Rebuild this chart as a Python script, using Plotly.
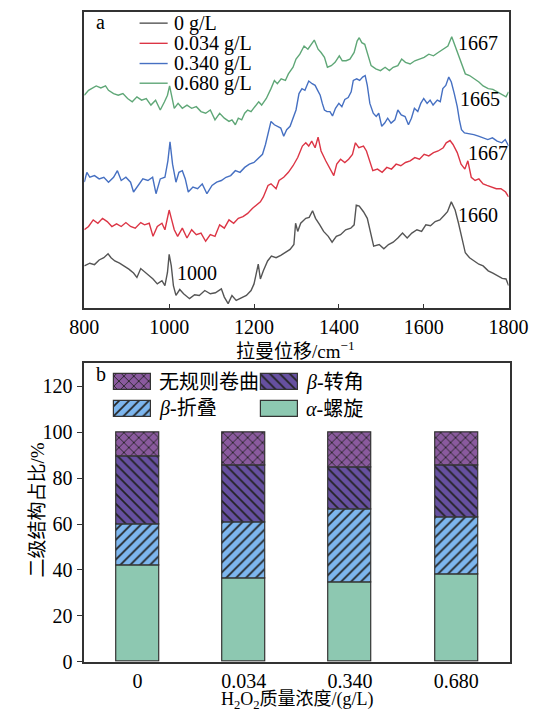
import plotly.graph_objects as go

W, H = 552, 722

# ---------------- Raman spectra (offset intensity, a.u.) ----------------
spec_0 = [(800, 43), (813, 45.7), (824, 44.3), (835, 49), (846, 51.3), (856, 55.3), (863, 51.3),
          (872, 48), (883, 45.7), (894, 43), (905, 39.7), (916, 35.7), (924, 31.3), (933, 40.3),
          (942, 37), (952, 33.7), (962, 29.7), (972, 24.7), (983, 28), (990, 23), (996, 36.3),
          (1000, 54.7), (1005, 43), (1010, 23), (1016, 13), (1025, 19), (1034, 14.7), (1048, 9.7),
          (1060, 13.7), (1071, 13), (1084, 18), (1097, 14.7), (1109, 15.7), (1123, 19.7),
          (1130, 11.3), (1139, 4.7), (1148, 13), (1158, 8), (1171, 10.3), (1182, 13), (1193, 18),
          (1200, 24.7), (1210, 44.7), (1215, 29.7), (1222, 38), (1232, 48), (1241, 53),
          (1252, 51.3), (1263, 53.7), (1274, 56.3), (1285, 59.7), (1294, 64.7), (1298, 86.3),
          (1303, 78), (1310, 86.3), (1322, 91.3), (1330, 92.3), (1338, 99), (1345, 91.3),
          (1355, 84.7), (1364, 78), (1375, 73), (1384, 67), (1394, 73), (1404, 74.7),
          (1416, 79.7), (1428, 81.3), (1436, 84.7), (1441, 104.7), (1448, 103.7), (1458, 98),
          (1467, 91.3), (1475, 76.3), (1482, 63), (1495, 64.7), (1506, 60.3), (1517, 64.7),
          (1528, 67), (1539, 71.3), (1550, 76.3), (1561, 71.3), (1572, 76.3), (1584, 79.7),
          (1595, 78), (1605, 84.7), (1616, 83.7), (1627, 88), (1638, 89.7), (1649, 94.7),
          (1656, 98), (1665, 108), (1674, 99.7), (1682, 86.3), (1691, 68), (1698, 56.3),
          (1708, 51.3), (1719, 48), (1730, 44.7), (1740, 43), (1752, 38), (1763, 35.7),
          (1774, 33), (1785, 30.3), (1794, 29.7), (1800, 23)]

spec_0034 = [(800, 79.7), (810, 83), (821, 89.7), (832, 86.3), (843, 91.3), (854, 88), (865, 83),
             (876, 85.7), (887, 83), (898, 87), (909, 83), (920, 81.3), (933, 87), (942, 84.7),
             (953, 86.3), (962, 73), (972, 83), (983, 86.3), (990, 79.7), (1000, 99.7),
             (1006, 89.7), (1012, 79.7), (1020, 73), (1031, 81.3), (1042, 71.3), (1053, 79.7),
             (1064, 74.7), (1075, 76.3), (1086, 68), (1097, 74.7), (1108, 73), (1119, 84.7),
             (1130, 81.3), (1141, 89.7), (1152, 86.3), (1163, 91.3), (1174, 93), (1185, 96.3),
             (1196, 101.3), (1207, 104.7), (1215, 108), (1222, 113), (1229, 119.7), (1233, 124.7),
             (1240, 126.3), (1252, 121.3), (1259, 129.7), (1270, 133), (1281, 138), (1292, 144.7),
             (1303, 153), (1314, 164.7), (1322, 168), (1329, 164.7), (1336, 169.7), (1344, 163),
             (1351, 173.7), (1358, 159.7), (1369, 149.7), (1380, 141.3), (1388, 134.7),
             (1395, 146.3), (1404, 151.3), (1414, 148), (1423, 151.3), (1432, 156.3), (1439, 168),
             (1447, 163), (1458, 164.7), (1465, 159.7), (1473, 149.7), (1480, 139.7), (1491, 141.3),
             (1502, 138), (1513, 143), (1524, 141.3), (1535, 146.3), (1546, 144.7), (1557, 148),
             (1568, 149.7), (1579, 153), (1590, 151.3), (1601, 156.3), (1612, 154.7), (1623, 158),
             (1634, 159.7), (1646, 163), (1653, 168), (1662, 170.3), (1669, 166.3), (1679, 158),
             (1688, 146.3), (1697, 141.3), (1704, 149.7), (1712, 133), (1721, 129.7), (1730, 131.3),
             (1740, 126.3), (1749, 124.7), (1760, 123), (1771, 121.3), (1782, 121.3), (1793, 118),
             (1800, 113)]

spec_0340 = [(800, 128), (806, 138), (813, 133), (824, 134.7), (835, 131.3), (846, 133), (857, 128),
             (869, 133), (878, 139.7), (887, 129.7), (898, 133), (909, 128), (916, 118),
             (927, 124.7), (938, 131.3), (950, 129.7), (961, 133), (969, 116.3), (979, 131.3),
             (990, 133), (997, 149.7), (1002, 169), (1008, 146.3), (1016, 128), (1023, 138),
             (1031, 139.7), (1038, 131.3), (1045, 118), (1056, 123), (1067, 121.3), (1078, 126.3),
             (1089, 116.3), (1101, 124.7), (1112, 128), (1123, 129.7), (1134, 133), (1145, 134.7),
             (1156, 139.7), (1167, 138), (1178, 143), (1189, 146.3), (1200, 148), (1211, 153),
             (1220, 156.3), (1227, 166.3), (1235, 179.7), (1240, 189.7), (1248, 186.3),
             (1255, 184.7), (1263, 183), (1270, 174.7), (1277, 181.3), (1285, 184.7), (1292, 193),
             (1299, 201.3), (1306, 218), (1313, 223), (1320, 221.3), (1329, 230.7), (1337, 228),
             (1344, 226.3), (1350, 221.3), (1356, 216.3), (1361, 208), (1366, 201.3),
             (1372, 199.7), (1379, 199.7), (1385, 195.3), (1392, 203), (1400, 208), (1407, 204.7),
             (1414, 212), (1422, 214), (1429, 219.7), (1434, 231.3), (1442, 233), (1449, 231.3),
             (1456, 234.7), (1462, 236.3), (1467, 226.3), (1473, 208), (1481, 198), (1488, 194.7),
             (1494, 198), (1501, 184.7), (1508, 188), (1515, 193), (1523, 188), (1532, 191.3),
             (1539, 201.3), (1547, 196.3), (1556, 194.7), (1564, 186.3), (1571, 193), (1578, 203),
             (1586, 199.7), (1593, 208), (1600, 213), (1608, 208), (1615, 211.3), (1622, 206.3),
             (1632, 211.3), (1639, 209.7), (1645, 223), (1652, 226.3), (1659, 234.7), (1665, 229.7),
             (1672, 218), (1679, 204.7), (1684, 191.3), (1689, 181.3), (1696, 178), (1707, 177.3),
             (1718, 176.3), (1729, 174.7), (1740, 173), (1751, 171.3), (1762, 173), (1773, 169.7),
             (1784, 168), (1792, 171.3), (1800, 164.7)]

spec_0680 = [(800, 216.3), (810, 221.3), (817, 223), (828, 225.7), (839, 223.7), (850, 225.7),
             (857, 221.3), (869, 218), (880, 216.3), (891, 218), (902, 213), (913, 209.7),
             (924, 214.7), (935, 211.3), (946, 213), (957, 206.3), (968, 211.3), (979, 201.3),
             (989, 209.7), (996, 216.3), (1001, 225.7), (1006, 216.3), (1012, 203), (1021, 208),
             (1031, 203), (1042, 206.3), (1053, 203), (1064, 204.7), (1075, 199.7), (1086, 198),
             (1097, 201.3), (1108, 191.3), (1119, 198), (1130, 193), (1141, 189.7), (1148, 191.3),
             (1156, 186.3), (1163, 193), (1171, 191.3), (1178, 198), (1185, 201.3), (1193, 199.7),
             (1204, 206.3), (1211, 209.7), (1218, 206.3), (1229, 213), (1240, 223), (1248, 231.3),
             (1255, 228), (1264, 233), (1274, 231.3), (1281, 238), (1292, 244.7), (1299, 253),
             (1308, 258), (1318, 266.3), (1327, 263), (1336, 268), (1342, 272.3), (1351, 263),
             (1358, 259.7), (1366, 254.7), (1373, 244.7), (1382, 246.3), (1391, 249.7),
             (1401, 256.3), (1408, 251.3), (1417, 251.3), (1426, 253), (1436, 259.7),
             (1443, 271.3), (1448, 274.7), (1454, 269.7), (1461, 268), (1469, 256.3), (1476, 246.3),
             (1487, 243), (1498, 241.3), (1509, 244.7), (1519, 241.3), (1528, 244.7), (1539, 246.3),
             (1548, 253), (1557, 249.7), (1568, 248), (1579, 251.3), (1590, 253), (1601, 254.7),
             (1612, 258), (1623, 256.3), (1634, 259.7), (1645, 263), (1657, 266.3), (1666, 275.7),
             (1674, 266.3), (1682, 256.3), (1690, 246.3), (1698, 238), (1708, 236.3), (1719, 233),
             (1730, 229.7), (1740, 225.7), (1752, 223), (1763, 222.3), (1774, 219.7),
             (1785, 216.3), (1794, 214.7), (1800, 219.7)]

spec_names = ["0 g/L", "0.034 g/L", "0.340 g/L", "0.680 g/L"]
spec_data = [spec_0, spec_0034, spec_0340, spec_0680]
spec_colors = ["#555555", "#DC3545", "#4670C2", "#5FA777"]

# Peak labels: (text, wavenumber, intensity)
peak_labels = [("1667", 1728, 269), ("1665", 1733, 212), ("1667", 1751, 158),
               ("1660", 1728, 95), ("1000", 1066, 36)]

# ---------------- Secondary structure (%) ----------------
conc = ["0", "0.034", "0.340", "0.680"]
alpha_helix = [42.1, 36.3, 34.7, 38.0]
beta_sheet = [17.8, 24.5, 31.7, 25.1]
beta_turn = [29.8, 24.7, 18.3, 22.3]
random_coil = [10.3, 14.5, 15.3, 14.6]

struct_names = ["<i>α</i>-螺旋", "<i>β</i>-折叠", "<i>β</i>-转角", "无规则卷曲"]
struct_values = [alpha_helix, beta_sheet, beta_turn, random_coil]
struct_colors = ["#8DC8B1", "#7DB6EE", "#6650A0", "#8A5A9E"]
struct_hatch = ["", "/", "\\", "x"]

FONT = "Liberation Serif, Noto Sans CJK SC, serif"
EDGE = "#333333"
HATCH_INK = "#222222"


def px_x(p):
    return p / W


def px_y(p):
    return 1 - p / H


def bar_marker(col, hatch):
    return dict(color=col, line=dict(color=EDGE, width=1.2),
                pattern=dict(shape=hatch, fgcolor=HATCH_INK, bgcolor=col,
                             size=7, solidity=0.24, fillmode="replace"))


fig = go.Figure()

# spectra
for name, data, col in zip(spec_names, spec_data, spec_colors):
    fig.add_trace(go.Scatter(
        x=[p[0] for p in data], y=[p[1] for p in data], mode="lines", name=name,
        line=dict(color=col, width=1.4), xaxis="x", yaxis="y", showlegend=False))

# stacked bars (bases accumulated from the values)
base = [0.0] * len(conc)
for name, vals, col, hatch in zip(struct_names, struct_values, struct_colors, struct_hatch):
    fig.add_trace(go.Bar(
        x=conc, y=vals, base=list(base), name=name, width=0.405,
        marker=bar_marker(col, hatch), xaxis="x2", yaxis="y2", showlegend=False))
    base = [b + v for b, v in zip(base, vals)]

# ---- legend drawn on a pixel-space overlay axis ----
# line legend (top panel)
line_rows = [23.5, 44, 64.5, 84.5]
for name, col, ry in zip(spec_names, spec_colors, line_rows):
    fig.add_trace(go.Scatter(x=[133, 163], y=[ry, ry], mode="lines",
                             line=dict(color=col, width=1.4), xaxis="x3", yaxis="y3",
                             showlegend=False, hoverinfo="skip"))

# patch legend (bottom panel): order coil, turn / sheet, helix
patch_slots = {3: (106, 388), 2: (263, 388), 1: (106, 415), 0: (263, 415)}
for i, (name, col, hatch) in enumerate(zip(struct_names, struct_colors, struct_hatch)):
    lx, ly = patch_slots[i]
    fig.add_trace(go.Bar(
        x=[39], y=[ly], base=[lx], orientation="h", width=16,
        marker=bar_marker(col, hatch), xaxis="x3", yaxis="y3",
        showlegend=False, hoverinfo="skip"))

annotations = []
for name, ry in zip(spec_names, line_rows):
    annotations.append(dict(x=168, y=ry, xref="x3", yref="y3", text=name, showarrow=False,
                            xanchor="left", yanchor="middle", font=dict(size=20, family=FONT, color="#000")))
for i, name in enumerate(struct_names):
    lx, ly = patch_slots[i]
    annotations.append(dict(x=lx + 46, y=ly, xref="x3", yref="y3", text=name, showarrow=False,
                            xanchor="left", yanchor="middle", font=dict(size=20, family=FONT, color="#000")))

for txt, wx, iy in peak_labels:
    annotations.append(dict(x=wx, y=iy, xref="x", yref="y", text=txt, showarrow=False,
                            font=dict(size=20, family=FONT, color="#000")))

# panel letters and axis titles
annotations += [
    dict(x=91, y=22, xref="x3", yref="y3", text="a", showarrow=False,
         font=dict(size=20, family=FONT, color="#000")),
    dict(x=92, y=380, xref="x3", yref="y3", text="b", showarrow=False,
         font=dict(size=20, family=FONT, color="#000")),
    dict(x=300, y=355, xref="x3", yref="y3", text="拉曼位移/cm<sup>−1</sup>", showarrow=False,
         font=dict(size=19, family=FONT, color="#000")),
    dict(x=302, y=711, xref="x3", yref="y3", text="H<sub>2</sub>O<sub>2</sub>质量浓度/(g/L)",
         showarrow=False, font=dict(size=18, family=FONT, color="#000")),
    dict(x=24, y=518, xref="x3", yref="y3", text="二级结构占比/%", showarrow=False, textangle=-90,
         font=dict(size=19, family=FONT, color="#000")),
]

axis_common = dict(showline=True, linecolor=EDGE, linewidth=1.5, mirror=True, showgrid=False,
                   zeroline=False, tickfont=dict(size=20, family=FONT, color="#000"))

fig.update_layout(
    width=W, height=H, autosize=False, margin=dict(l=0, r=0, t=0, b=0),
    paper_bgcolor="white", plot_bgcolor="rgba(0,0,0,0)",
    barmode="overlay", bargap=0,
    font=dict(family=FONT, color="#000"),
    xaxis=dict(domain=[px_x(74), px_x(527)], anchor="y", range=[800, 1800],
               tickvals=[800, 1000, 1200, 1400, 1600, 1800], ticks="inside", ticklen=4,
               tickcolor=EDGE, **axis_common),
    yaxis=dict(domain=[px_y(313), px_y(12)], anchor="x", range=[0, 301],
               showticklabels=False, ticks="", **axis_common),
    xaxis2=dict(domain=[px_x(74), px_x(528)], anchor="y2", type="category", range=[-0.5, 3.5],
                ticks="", **axis_common),
    yaxis2=dict(domain=[px_y(672), px_y(369)], anchor="x2", range=[0, 130],
                tickvals=[0, 20, 40, 60, 80, 100, 120], ticks="outside", ticklen=6,
                tickcolor=EDGE, **axis_common),
    xaxis3=dict(domain=[0, 1], anchor="y3", range=[0, W], visible=False, fixedrange=True),
    yaxis3=dict(domain=[0, 1], anchor="x3", range=[H, 0], visible=False, fixedrange=True),
    annotations=annotations,
)

fig.write_html("out.html", config={"displayModeBar": False})
